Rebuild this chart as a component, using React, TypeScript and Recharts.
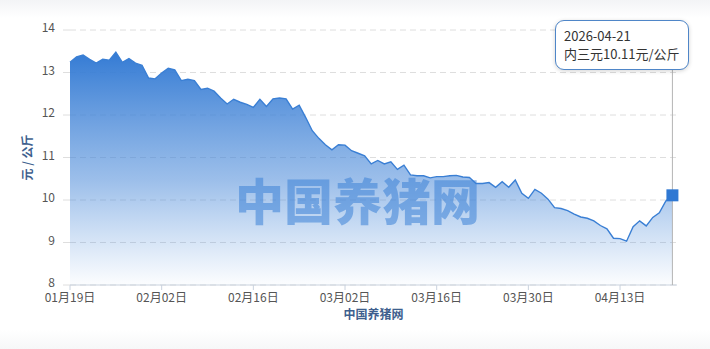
import { Area, AreaChart, CartesianGrid, Label, Tooltip, XAxis, YAxis } from "recharts";

// 内三元 daily price, 2026-01-19 .. 2026-04-21 (元/公斤)
const startDate = [2026, 0, 19];
const prices = [
  13.24, 13.37, 13.41, 13.31, 13.22, 13.31, 13.29, 13.48, 13.24, 13.33,
  13.22, 13.17, 12.87, 12.85, 12.99, 13.1, 13.06, 12.81, 12.84, 12.81,
  12.6, 12.63, 12.56, 12.4, 12.26, 12.37, 12.3, 12.25, 12.18, 12.37,
  12.2, 12.38, 12.4, 12.38, 12.14, 12.23, 11.94, 11.63, 11.45, 11.3,
  11.18, 11.3, 11.29, 11.16, 11.1, 11.04, 10.85, 10.93, 10.85, 10.9,
  10.72, 10.82, 10.59, 10.57, 10.57, 10.52, 10.55, 10.55, 10.57, 10.58,
  10.54, 10.53, 10.39, 10.39, 10.41, 10.3, 10.43, 10.3, 10.47, 10.16,
  10.04, 10.25, 10.16, 10.02, 9.82, 9.8, 9.75, 9.67, 9.6, 9.57,
  9.51, 9.4, 9.32, 9.1, 9.09, 9.03, 9.37, 9.51, 9.39, 9.59,
  9.7, 9.98, 10.11,
];
const tickDays = [0, 14, 28, 42, 56, 70, 84];
const tickLabels = ["01月19日", "02月02日", "02月16日", "03月02日", "03月16日", "03月30日", "04月13日"];
const yTicks = [8, 9, 10, 11, 12, 13, 14];
const seriesName = "内三元";
const unit = "元/公斤";
const siteName = "中国养猪网";

const FONT = '"Noto Sans CJK SC", "Noto Sans", sans-serif';
const BLUE = "#3a7fd4";

function dayToDate(day: number) {
  const d = new Date(Date.UTC(startDate[0], startDate[1], startDate[2] + day));
  return d.toISOString().slice(0, 10);
}

const data = prices.map((price, day) => ({ day, date: dayToDate(day), price }));

function PriceTooltip({ active, payload }: any) {
  if (!active || !payload || !payload.length) return null;
  const row = payload[0].payload;
  return (
    <div
      style={{
        background: "#fff",
        border: "1.5px solid #4f86c8",
        borderRadius: 9,
        padding: "6px 8px 6px 8px",
        fontFamily: FONT,
        fontSize: 13,
        lineHeight: "18px",
        color: "#333",
        whiteSpace: "nowrap",
        boxShadow: "0 1px 4px rgba(0,0,0,0.18)",
      }}
    >
      <div>{row.date}</div>
      <div>
        {seriesName}
        {row.price.toFixed(2)}
        {unit}
      </div>
    </div>
  );
}

function SquareDot(props: any) {
  const { cx, cy } = props;
  if (cx == null || cy == null) return <g />;
  return <rect x={cx - 6} y={cy - 6} width={12} height={12} fill="#2f78d3" />;
}

export default function App() {
  return (
    <div
      style={{
        position: "absolute",
        left: 0,
        top: 0,
        width: 710,
        height: 349,
        background: "linear-gradient(#f3f4f6 0px, #ffffff 18px, #ffffff 330px, #f6f7f8 349px)",
        fontFamily: FONT,
      }}
    >
      <AreaChart width={710} height={349} data={data} margin={{ top: 30, right: 33, left: 0, bottom: 24 }}>
        <defs>
          <linearGradient id="priceFill" x1="0" y1="0" x2="0" y2="1">
            <stop offset="0%" stopColor="#347bd4" stopOpacity={1} />
            <stop offset="55%" stopColor="#4b8ad9" stopOpacity={0.55} />
            <stop offset="100%" stopColor="#5a95dd" stopOpacity={0.02} />
          </linearGradient>
        </defs>
        <CartesianGrid vertical={false} stroke="#dedede" strokeDasharray="6 4" />
        <XAxis
          type="number"
          dataKey="day"
          domain={[0, 92.7]}
          ticks={tickDays}
          tickFormatter={(d: number) => tickLabels[tickDays.indexOf(d)]}
          height={40}
          tickSize={5}
          tickMargin={3}
          stroke="#c9d2de"
          tick={{ fill: "#555", fontSize: 12, fontFamily: FONT }}
        >
          <Label value={siteName} position="insideBottom" offset={6} fill="#3e5f8e" fontSize={12} fontWeight="bold" fontFamily={FONT} />
        </XAxis>
        <YAxis
          domain={[8, 14]}
          ticks={yTicks}
          width={70}
          axisLine={false}
          tickSize={7}
          tickMargin={8}
          tickLine={{ stroke: "#dedede" }}
          tick={{ fill: "#555", fontSize: 12, fontFamily: FONT, dy: -2 }}
        >
          <Label
            value="元 / 公斤"
            angle={-90}
            position="insideLeft"
            offset={28}
            fill="#3e5f8e"
            fontSize={12}
            fontWeight="bold"
            fontFamily={FONT}
            style={{ textAnchor: "middle" }}
          />
        </YAxis>
        <Tooltip
          content={<PriceTooltip />}
          active
          defaultIndex={92}
          position={{ x: 555, y: 20 }}
          cursor={{ stroke: "#b5b5b5", strokeWidth: 1, strokeDasharray: "0" }}
          isAnimationActive={false}
          wrapperStyle={{ zIndex: 5 }}
        />
        <Area
          type="linear"
          dataKey="price"
          name={seriesName}
          stroke={BLUE}
          strokeWidth={1.4}
          fill="url(#priceFill)"
          fillOpacity={1}
          dot={false}
          activeDot={SquareDot}
          isAnimationActive={false}
        />
      </AreaChart>
      <div
        style={{
          position: "absolute",
          left: 0,
          width: 715,
          top: 169,
          textAlign: "center",
          fontFamily: FONT,
          fontWeight: 900,
          fontSize: 49,
          lineHeight: "60px",
          color: "#3c82d7",
          opacity: 0.55,
          pointerEvents: "none",
        }}
      >
        {siteName}
      </div>
    </div>
  );
}
